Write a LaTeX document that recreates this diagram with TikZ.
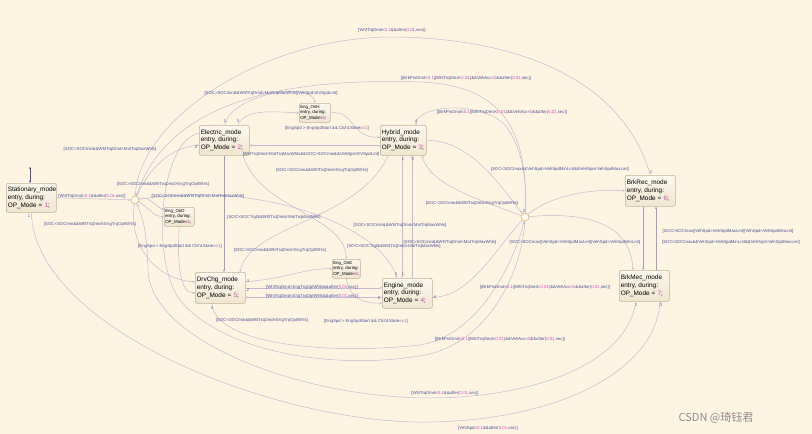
\documentclass[tikz,border=0pt]{standalone}
\usepackage{fontspec}
\setmainfont{Liberation Sans}
\newfontfamily\cjk{Noto Sans CJK SC}
\usetikzlibrary{arrows.meta,calc}
\definecolor{bg}{HTML}{FEF4E2}
\definecolor{trc}{HTML}{C3BAD3}
\definecolor{lbl}{HTML}{4A4E9E}
\definecolor{mag}{HTML}{E040C8}
\definecolor{bord}{HTML}{BFB194}
\definecolor{boxtop}{HTML}{FCF8EE}
\definecolor{boxbot}{HTML}{F0E6CF}
\definecolor{jun}{HTML}{E9A55E}
\newcommand\mg[1]{\textcolor{mag}{#1}}
\newcommand\brk{[(BrkPrsDmd<\mg{0.1}||WhlTrqDmd<\mg{0.01})\&\&VehAcc<\mg{0}\&\&after(\mg{0.01},sec)]}
\begin{document}
\begin{tikzpicture}[x=1pt,y=-1pt,
  stbox/.style={draw=bord, line width=0.6pt, rounded corners=2pt, top color=boxtop, bottom color=boxbot, anchor=north west, align=left, inner xsep=1.5pt, inner ysep=0pt, font=\fontsize{6.4}{7.6}\selectfont, text=black},
  smbox/.style={stbox, font=\fontsize{4.4}{5.3}\selectfont, inner xsep=1pt},
  tr/.style={draw=trc, line width=0.5pt, -{Stealth[length=2.6pt,width=2.2pt]}},
  trb/.style={tr, draw=lbl!55},
  lab/.style={text=lbl, font=\fontsize{4.3}{4.8}\selectfont, inner sep=0pt},
  num/.style={text=lbl, font=\fontsize{4}{4.5}\selectfont, inner sep=0pt},
  jn/.style={circle, draw=jun, fill=boxtop, line width=0.5pt, minimum size=8pt, inner sep=0pt}
]
\useasboundingbox (0,0) rectangle (812,434);
\fill[bg] (0,0) rectangle (812,434);

% states
\node[stbox, minimum width=50pt, minimum height=29pt, text width=47pt] (S) at (6,183) {Stationary\_mode\\entry, during:\\OP\_Mode = \mg{1};};
\node[stbox, minimum width=50pt, minimum height=30pt, text width=47pt] (E) at (199,125) {Electric\_mode\\entry, during:\\OP\_Mode = \mg{2};};
\node[stbox, minimum width=46pt, minimum height=30pt, text width=43pt] (H) at (380,125) {Hybrid\_mode\\entry, during:\\OP\_Mode = \mg{3};};
\node[smbox, minimum width=31pt, minimum height=19pt, text width=29pt] (OH) at (299,103) {Eng\_OnH\\entry, during:\\OP\_Mode=\mg{6};};
\node[smbox, minimum width=30pt, minimum height=19pt, text width=28pt] (OD) at (164,207) {Eng\_OnD\\entry, during:\\OP\_Mode=\mg{6};};
\node[stbox, minimum width=50pt, minimum height=31pt, text width=47pt] (D) at (195,272) {DrvChg\_mode\\entry, during:\\OP\_Mode = \mg{5};};
\node[smbox, minimum width=28pt, minimum height=19pt, text width=26pt] (OE) at (332,259) {Eng\_OnE\\entry, during:\\OP\_Mode=\mg{6};};
\node[stbox, minimum width=50pt, minimum height=30pt, text width=47pt] (G) at (382,278) {Engine\_mode\\entry, during:\\OP\_Mode = \mg{4};};
\node[stbox, minimum width=50pt, minimum height=31pt, text width=47pt] (R) at (625,175) {BrkRec\_mode\\entry, during:\\OP\_Mode = \mg{6};};
\node[stbox, minimum width=50pt, minimum height=31pt, text width=47pt] (M) at (619,270) {BrkMec\_mode\\entry, during:\\OP\_Mode = \mg{7};};
\node[jn] (J1) at (135,200) {};
\node[jn] (J2) at (525,217) {};

% default transition
\coordinate (c0) at (30,168);
\fill[lbl] (c0) circle (1pt);
\draw[lbl, line width=0.6pt, -{Stealth[length=2.6pt,width=2.2pt]}] (c0) -- (c0 |- S.north);

% transitions
\draw[tr] (S.east) -- (J1);
\draw[tr] (J1) .. controls (148,170) and (170,147) .. ($(E.west)+(0,5)$);
\draw[tr] (J1) .. controls (150,208) and (152,216) .. (OD.west);
\draw[tr] (J1) .. controls (148,195) and (155,206) .. ($(OD.north west)+(0,3)$);
\draw[tr] (J1) .. controls (260,180) and (380,225) .. ($(G.north west)+(15,0)$);
\draw[tr] (J1) .. controls (128,250) and (160,280) .. ($(D.west)+(0,-6)$);
\draw[tr] (OD.south) .. controls (177,265) and (180,293) .. ($(D.west)+(0,5)$);
\draw[tr] ($(E.north west)+(26,0)$) .. controls (230,95) and (312,80) .. (OH.north);
\draw[tr] ($(E.north west)+(39,0)$) .. controls (245,108) and (275,112) .. (OH.west);
\draw[tr] (OH.east) .. controls (355,110) and (350,138) .. ($(H.west)+(0,-3)$);
\draw[tr] ($(H.west)+(0,5)$) -- ($(E.east)+(0,5)$);
\draw[tr] ($(H.south west)+(22,0)$) -- ($(G.north west)+(20,0)$);
\draw[tr] ($(G.north west)+(30,0)$) -- ($(H.south west)+(32,0)$);
\draw[trb] ($(E.south west)+(25,0)$) -- ($(D.north west)+(29,0)$);
\draw[tr] ($(E.south west)+(44,0)$) .. controls (260,210) and (345,215) .. (OE.north);
\draw[tr] ($(H.south west)+(8,0)$) .. controls (360,220) and (250,225) .. ($(D.north west)+(45,0)$);
\draw[tr] ($(D.east)+(0,-6)$) .. controls (290,278) and (305,268) .. (OE.west);
\draw[tr] (D.east) -- (D.east -| G.west);
\coordinate (g2) at ($(G.west)+(0,4)$);
\draw[tr] (g2) -- (g2 -| D.east);
\draw[tr] (OE.south) .. controls (350,300) and (365,303) .. ($(G.west)+(0,10)$);
\draw[tr] ($(D.south west)+(17,0)$) .. controls (215,345) and (330,355) .. (420,345) .. controls (480,335) and (515,260) .. (J2);
\draw[tr] ($(E.west)+(0,-7)$) .. controls (160,140) and (150,260) .. (180,300) .. controls (220,350) and (330,372) .. (425,355) .. controls (490,342) and (522,270) .. (J2);
\draw[tr] (S.south) .. controls (35,330) and (280,425) .. (430,422) .. controls (560,420) and (655,370) .. ($(M.south west)+(41,0)$);
\draw[tr] ($(M.south west)+(17,0)$) .. controls (625,370) and (520,398) .. (430,398) .. controls (300,398) and (150,340) .. (148,270) .. controls (147,230) and (142,215) .. (J1);
\draw[tr] (R.north) .. controls (620,70) and (500,37) .. (390,37) .. controls (260,38) and (140,120) .. (J1);
\draw[tr] (J2) .. controls (528,140) and (510,85) .. (420,82) .. controls (300,78) and (170,95) .. (J1);
\draw[tr] (J2) .. controls (527,190) and (525,150) .. (505,125) .. controls (480,100) and (418,105) .. ($(H.north west)+(36,0)$);
\draw[tr] (H.east) .. controls (470,140) and (500,185) .. (J2);
\draw[tr] (J2) .. controls (480,200) and (430,185) .. ($(H.south west)+(42,0)$);
\draw[tr] (J2) .. controls (545,200) and (580,188) .. (R.west);
\draw[tr] (J2) .. controls (580,212) and (630,220) .. ($(M.north west)+(14,0)$);
\draw[trb] ($(R.south west)+(18,0)$) -- ($(M.north west)+(24,0)$);
\draw[trb] ($(M.north west)+(37,0)$) -- ($(R.south west)+(31,0)$);
\draw[tr] (J2) .. controls (495,250) and (470,296) .. ($(G.east)+(0,4)$);

% labels
\node[lab] (l1) at (392,30) {[WhlTrqDmd<\mg{0.1}\&\&after(\mg{0.01},sec)]};
\node[lab] (l2) at (466,78) {\brk};
\node[lab] (l3) at (271,93) {[SOC>SOCmin\&\&WhlTrqDmd>MotTrqMaxWhls||VehSpd>EVSpdLmt]};
\node[lab] (l4) at (502,112) {\brk};
\node[lab] (l5) at (327,128) {[EngSpd > EngSpdStart \&\& Clch1State==\mg{1}]};
\node[lab] (l6) at (110,149) {[SOC>SOCmin\&\&WhlTrqDmd<MotTrqMaxWhls]};
\node[lab] (l7) at (311,154) {[WhlTrqDmd<MotTrqMaxWhls\&\&SOC>SOCmin\&\&VehSpd<EVSpdLmt]};
\node[lab] (l8) at (322,170) {[SOC<SOCmin\&\&WhlTrqDmd>EngTrqOptWhls]};
\node[lab] (l9) at (560,169) {[SOC<SOCmax\&\&VehSpd>VehSpdMinLmt\&\&VehSpd<VehSpdMaxLmt]};
\node[lab] (l10) at (163,184) {[SOC>SOCmin\&\&WhlTrqDmd>EngTrqOptWhls]};
\node[lab] (l11) at (198,196) {[SOC<SOCmin\&\&WhlTrqDmd<MotTrqMaxWhls]};
\node[lab] (l12) at (92,196) {[WhlTrqDmd>\mg{0.1}\&\&after(\mg{0.01},sec)]};
\node[lab] (l13) at (472,203) {[SOC<SOCmin\&\&WhlTrqDmd>EngTrqOptWhls]};
\node[lab] (l14) at (274,217) {[SOC>SOCTrgt\&\&WhlTrqDmd<MotTrqMaxWhls]};
\node[lab] (l15) at (90,224) {[SOC<SOCmin\&\&WhlTrqDmd<EngTrqOptWhls]};
\node[lab] (l16) at (400,225) {[SOC<SOCmin\&\&WhlTrqDmd<MotTrqMaxWhls]};
\node[lab] (l17) at (728,231) {[SOC>SOCmax||VehSpd>VehSpdMaxLmt||VehSpd<VehSpdMinLmt]};
\node[lab] (l18) at (731,242) {[SOC<SOCmax\&\&VehSpd>VehSpdMinLmt\&\&VehSpd<VehSpdMaxLmt]};
\node[lab] (l19) at (450,242) {[SOC>SOCmin\&\&WhlTrqDmd<MotTrqMaxWhls]};
\node[lab] (l20) at (394,246) {[SOC>SOCTrgt\&\&WhlTrqDmd>MotTrqMaxWhls]};
\node[lab] (l21) at (575,242) {[SOC>SOCmax||VehSpd>VehSpdMaxLmt||VehSpd<VehSpdMinLmt]};
\node[lab] (l22) at (180,246) {[EngSpd > EngSpdStart \&\& Clch1State==\mg{1}]};
\node[lab] (l23) at (280,250) {[SOC>SOCmin\&\&WhlTrqDmd<EngTrqOptWhls]};
\node[lab] (l24) at (312,287) {[WhlTrqDmd>EngTrqOptWhls\&\&after(\mg{0.01},sec)]};
\node[lab] (l25) at (312,296) {[WhlTrqDmd<EngTrqOptWhls\&\&after(\mg{0.01},sec)]};
\node[lab] (l26) at (545,287) {\brk};
\node[lab] (l27) at (262,320) {[SOC<SOCmin\&\&WhlTrqDmd<EngTrqOptWhls]};
\node[lab] (l28) at (366,321) {[EngSpd > EngSpdStart \&\& Clch1State==\mg{1}]};
\node[lab] (l29) at (500,339) {\brk};
\node[lab] (l30) at (445,393) {[WhlTrqDmd<\mg{0.1}\&\&after(\mg{0.01},sec)]};
\node[lab] (l31) at (488,428) {[VehSpd<\mg{0.1}\&\&after(\mg{0.01},sec)]};

% transition order numbers
\node[num] (n1) at (29,216) {1};
\node[num] (n2) at (225,121) {1};
\node[num] (n3) at (238,121) {3};
\node[num] (n4) at (196,147) {2};
\node[num] (n5) at (416,121) {4};
\node[num] (n6) at (403,159) {1};
\node[num] (n7) at (413,159) {2};
\node[num] (n8) at (396,274) {3};
\node[num] (n9) at (403,274) {1};
\node[num] (n10) at (248,281) {3};
\node[num] (n11) at (248,290) {2};
\node[num] (n12) at (212,308) {4};
\node[num] (n13) at (379,298) {2};
\node[num] (n14) at (435,297) {4};
\node[num] (n15) at (651,172) {2};
\node[num] (n16) at (636,305) {2};
\node[num] (n17) at (661,305) {3};
\node[num] (n18) at (524,211) {2};

% watermark
\node[text=black!45, font=\cjk\fontsize{11}{12}\selectfont, inner sep=0pt] (wm) at (716,418) {CSDN @琦钰君};
\end{tikzpicture}
\end{document}
